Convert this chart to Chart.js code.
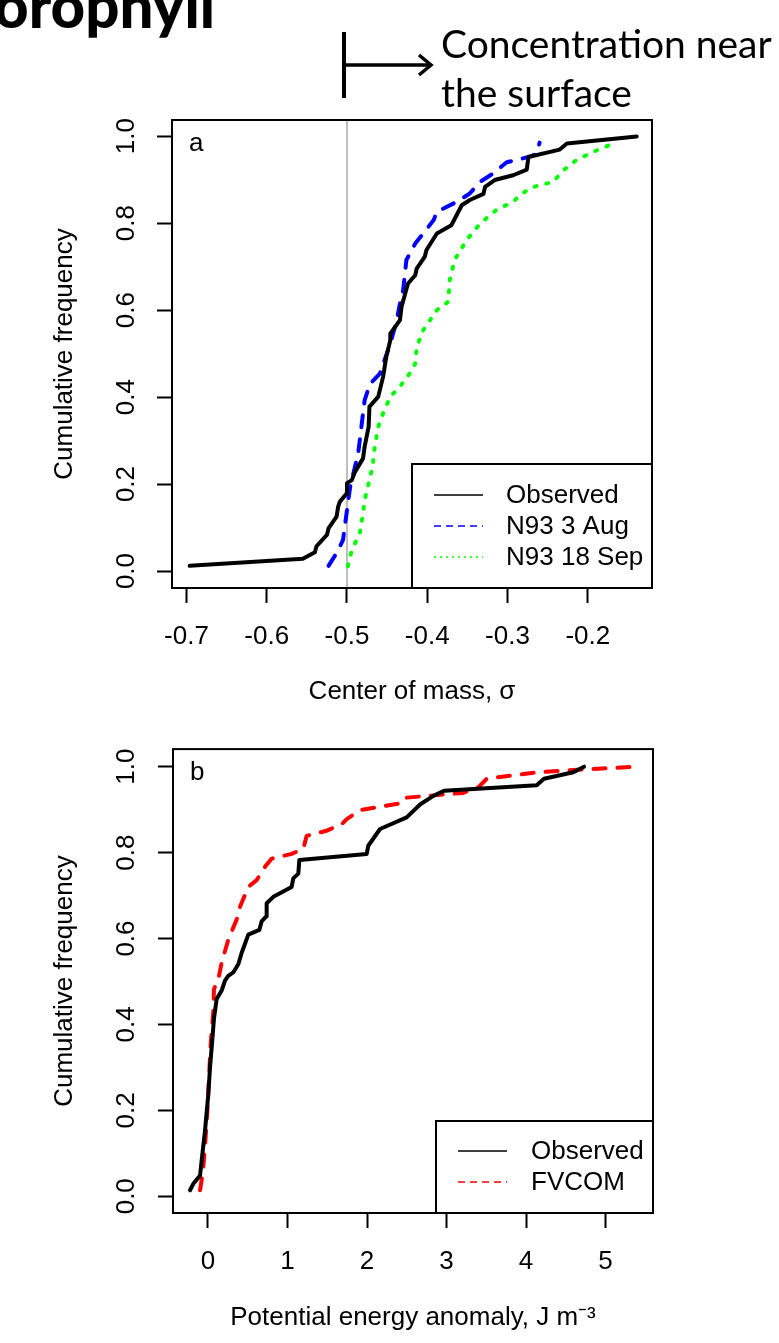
<!DOCTYPE html>
<html>
<head>
<meta charset="utf-8">
<script src="https://cdn.jsdelivr.net/npm/chart.js@4.4.0/dist/chart.umd.min.js"></script>
<style>
html,body{margin:0;padding:0;background:#fff;}
#wrap{position:relative;width:779px;height:1343px;overflow:hidden;background:#fff;}
canvas{position:absolute;left:0;}
#ca{top:0;}
#cb{top:720px;}
#head{position:absolute;right:564px;top:-25px;font-family:Lato,"Open Sans",sans-serif;font-weight:900;font-size:60px;line-height:60px;white-space:nowrap;color:#000;z-index:2;}
#note{position:absolute;left:441px;top:19px;font-family:Lato,"Open Sans",sans-serif;font-size:39px;line-height:49px;white-space:nowrap;color:#000;z-index:2;}
#arrow{position:absolute;left:0;top:0;z-index:2;}
</style>
</head>
<body>
<div id="wrap">
<canvas id="ca" width="779" height="720"></canvas>
<canvas id="cb" width="779" height="623"></canvas>
<div id="head">Chlorophyll</div>
<svg id="arrow" width="779" height="120">
  <line x1="344" y1="32" x2="344" y2="98" stroke="#000" stroke-width="4"/>
  <line x1="344" y1="65" x2="429" y2="65" stroke="#000" stroke-width="3.5"/>
  <polyline points="419,55 431,65 419,75" fill="none" stroke="#000" stroke-width="3.5" stroke-linejoin="miter"/>
</svg>
<div id="note">Concentration near<br>the surface</div>
</div>
<script>
// ---------- data ----------
const xTicksA = [-0.7, -0.6, -0.5, -0.4, -0.3, -0.2];
const xTickLabelsA = ['-0.7', '-0.6', '-0.5', '-0.4', '-0.3', '-0.2'];
const yTicks = [0, 0.2, 0.4, 0.6, 0.8, 1.0];
const yTickLabels = ['0.0', '0.2', '0.4', '0.6', '0.8', '1.0'];
const xTicksB = [0, 1, 2, 3, 4, 5];
const xTickLabelsB = ['0', '1', '2', '3', '4', '5'];

const surfaceRef = -0.5;

const observedA = [[-0.696,0.012],[-0.555,0.028],[-0.540,0.043],[-0.538,0.057],[-0.525,0.083],[-0.523,0.098],[-0.513,0.125],[-0.511,0.148],[-0.509,0.159],[-0.501,0.177],[-0.500,0.202],[-0.494,0.209],[-0.490,0.228],[-0.480,0.259],[-0.478,0.286],[-0.473,0.332],[-0.472,0.378],[-0.461,0.401],[-0.455,0.447],[-0.451,0.493],[-0.446,0.531],[-0.446,0.546],[-0.434,0.577],[-0.432,0.608],[-0.424,0.661],[-0.415,0.680],[-0.413,0.696],[-0.403,0.723],[-0.401,0.738],[-0.388,0.776],[-0.370,0.795],[-0.357,0.841],[-0.347,0.853],[-0.330,0.867],[-0.328,0.883],[-0.316,0.899],[-0.293,0.910],[-0.276,0.923],[-0.274,0.952],[-0.235,0.969],[-0.226,0.983],[-0.139,0.999]];
const n93Aug = [[-0.523,0.012],[-0.513,0.041],[-0.505,0.071],[-0.500,0.140],[-0.496,0.194],[-0.493,0.217],[-0.486,0.271],[-0.478,0.393],[-0.471,0.431],[-0.459,0.454],[-0.446,0.523],[-0.438,0.577],[-0.434,0.615],[-0.430,0.646],[-0.426,0.715],[-0.415,0.753],[-0.405,0.776],[-0.392,0.807],[-0.388,0.826],[-0.363,0.849],[-0.347,0.868],[-0.334,0.895],[-0.318,0.914],[-0.301,0.940],[-0.289,0.945],[-0.270,0.954],[-0.264,0.960],[-0.260,0.985]];
const n93Sep = [[-0.499,0.011],[-0.494,0.048],[-0.484,0.087],[-0.480,0.133],[-0.478,0.163],[-0.473,0.202],[-0.468,0.240],[-0.466,0.278],[-0.461,0.332],[-0.455,0.363],[-0.446,0.401],[-0.434,0.424],[-0.422,0.454],[-0.415,0.477],[-0.413,0.516],[-0.405,0.554],[-0.388,0.600],[-0.374,0.619],[-0.372,0.669],[-0.366,0.715],[-0.351,0.761],[-0.334,0.799],[-0.314,0.830],[-0.293,0.849],[-0.282,0.868],[-0.268,0.883],[-0.243,0.895],[-0.230,0.922],[-0.214,0.945],[-0.193,0.964],[-0.168,0.983],[-0.165,0.988]];

const observedB = [[-0.226,0.014],[-0.185,0.029],[-0.10,0.048],[-0.08,0.083],[-0.038,0.152],[0.004,0.237],[0.025,0.298],[0.059,0.375],[0.075,0.413],[0.109,0.459],[0.172,0.479],[0.214,0.502],[0.255,0.513],[0.318,0.521],[0.381,0.540],[0.424,0.567],[0.507,0.609],[0.646,0.620],[0.675,0.640],[0.730,0.651],[0.738,0.682],[0.822,0.697],[1.052,0.720],[1.073,0.740],[1.136,0.751],[1.149,0.783],[1.996,0.797],[2.016,0.816],[2.164,0.855],[2.499,0.882],[2.667,0.912],[2.834,0.932],[2.97,0.944],[4.134,0.957],[4.226,0.972],[4.595,0.987],[4.73,1.0]];
const fvcom = [[-0.10,0.014],[-0.067,0.052],[-0.038,0.114],[-0.008,0.198],[0.017,0.290],[0.033,0.352],[0.067,0.429],[0.075,0.482],[0.13,0.505],[0.172,0.544],[0.255,0.597],[0.36,0.644],[0.403,0.674],[0.507,0.720],[0.612,0.736],[0.717,0.767],[0.801,0.786],[1.052,0.797],[1.199,0.809],[1.241,0.839],[1.493,0.851],[1.682,0.866],[1.745,0.878],[1.912,0.899],[2.457,0.916],[2.499,0.928],[3.21,0.939],[3.40,0.952],[3.506,0.972],[4.134,0.987],[4.764,0.994],[5.39,1.0]];

// ---------- helpers ----------
const FONT = '"Liberation Sans", Arial, Helvetica, sans-serif';
const FS = 26;
const pts = arr => arr.map(p => ({x: p[0], y: p[1]}));

function ds(label, data, color, dash, legendDash) {
  return {label, data: pts(data), borderColor: color, backgroundColor: color, borderWidth: 4,
    borderDash: dash, borderCapStyle: 'round', borderJoinStyle: 'round',
    pointRadius: 0, tension: 0, fill: false, legendDash};
}

function xScale(min, max, ticks, labels, title, h, tpb) {
  return {type: 'linear', position: 'bottom', min, max,
    afterBuildTicks: s => { s.ticks = ticks.map(v => ({value: v})); },
    afterFit: s => { s.height = h; },
    grid: {drawOnChartArea: false, drawTicks: true, tickLength: 15, tickWidth: 2, tickColor: '#000'},
    border: {display: false},
    ticks: {autoSkip: false, padding: 18, color: '#000', font: {family: FONT, size: FS}, maxRotation: 0, minRotation: 0,
      callback: (v, i) => labels[i]},
    title: {display: true, text: title, color: '#000', font: {family: FONT, size: FS}, padding: {top: 0, bottom: tpb}}
  };
}
function yScale(min, max, w, pad) {
  return {type: 'linear', position: 'left', min, max,
    afterBuildTicks: s => { s.ticks = yTicks.map(v => ({value: v})); },
    afterFit: s => { s.width = w; },
    grid: {drawOnChartArea: false, drawTicks: true, tickLength: 15, tickWidth: 2, tickColor: '#000'},
    border: {display: false},
    ticks: {autoSkip: false, padding: pad, color: '#000', font: {family: FONT, size: FS}, minRotation: 90, maxRotation: 90, crossAlign: 'center',
      callback: (v, i) => yTickLabels[i]},
    title: {display: true, text: 'Cumulative frequency', color: '#000', font: {family: FONT, size: FS}, padding: {top: 49, bottom: 0}}
  };
}

const rframe = {
  id: 'rframe',
  beforeDatasetsDraw(chart, args, o) {
    if (o.vline === undefined) return;
    const {ctx, chartArea: a, scales} = chart;
    const px = scales.x.getPixelForValue(o.vline);
    ctx.save();
    ctx.strokeStyle = '#bebebe'; ctx.lineWidth = 2;
    ctx.beginPath(); ctx.moveTo(px, a.top); ctx.lineTo(px, a.bottom); ctx.stroke();
    ctx.restore();
  },
  afterDraw(chart, args, o) {
    const {ctx, chartArea: a} = chart;
    ctx.save();
    ctx.strokeStyle = '#000'; ctx.lineWidth = 2; ctx.setLineDash([]);
    ctx.strokeRect(a.left, a.top, a.right - a.left, a.bottom - a.top);
    // panel label
    ctx.fillStyle = '#000'; ctx.font = FS + 'px ' + FONT; ctx.textBaseline = 'middle'; ctx.textAlign = 'left';
    ctx.fillText(o.panel, a.left + 17, a.top + 24);
    // legend
    const bx = a.right - o.legW, by = a.bottom - o.legH;
    ctx.fillStyle = '#fff'; ctx.fillRect(bx, by, o.legW, o.legH);
    ctx.strokeRect(bx, by, o.legW, o.legH);
    chart.data.datasets.forEach((d, i) => {
      const y = by + o.legTop + i * 31;
      ctx.strokeStyle = d.borderColor; ctx.lineWidth = 1.6; ctx.lineCap = 'butt';
      ctx.setLineDash(d.legendDash);
      ctx.beginPath(); ctx.moveTo(bx + 22, y); ctx.lineTo(bx + 71, y); ctx.stroke();
      ctx.setLineDash([]);
      ctx.fillStyle = '#000';
      ctx.fillText(d.label, bx + o.legText, y + 1);
    });
    ctx.restore();
  }
};

Chart.register(rframe);

new Chart(document.getElementById('ca'), {
  type: 'line',
  data: {datasets: [
    ds('Observed', observedA, '#000000', [], []),
    ds('N93 3 Aug', n93Aug, '#0000ff', [12, 12], [7, 5]),
    ds('N93 18 Sep', n93Sep, '#00ff00', [2, 10], [2, 4])
  ]},
  options: {
    responsive: false, animation: false, maintainAspectRatio: false,
    layout: {padding: {left: 0, right: 127, top: 120, bottom: 0}},
    scales: {
      x: xScale(-0.718, -0.120, xTicksA, xTickLabelsA, 'Center of mass, σ', 132, 12.4),
      y: yScale(-0.039, 1.037, 172, 12)
    },
    plugins: {legend: {display: false}, tooltip: {enabled: false},
      rframe: {vline: surfaceRef, panel: 'a', legW: 240, legH: 124, legTop: 31, legText: 94}}
  }
});

new Chart(document.getElementById('cb'), {
  type: 'line',
  data: {datasets: [
    ds('Observed', observedB, '#000000', [], []),
    ds('FVCOM', fvcom, '#ff0000', [12, 12], [7, 5])
  ]},
  options: {
    responsive: false, animation: false, maintainAspectRatio: false,
    layout: {padding: {left: 0, right: 126, top: 24, bottom: 0}},
    scales: {
      x: xScale(-0.44, 5.597, xTicksB, xTickLabelsB, 'Potential energy anomaly, J m⁻³', 130, 9.4),
      y: yScale(-0.039, 1.041, 173, 13.5)
    },
    plugins: {legend: {display: false}, tooltip: {enabled: false},
      rframe: {panel: 'b', legW: 217, legH: 92, legTop: 30, legText: 95}}
  }
});
</script>
</body>
</html>
